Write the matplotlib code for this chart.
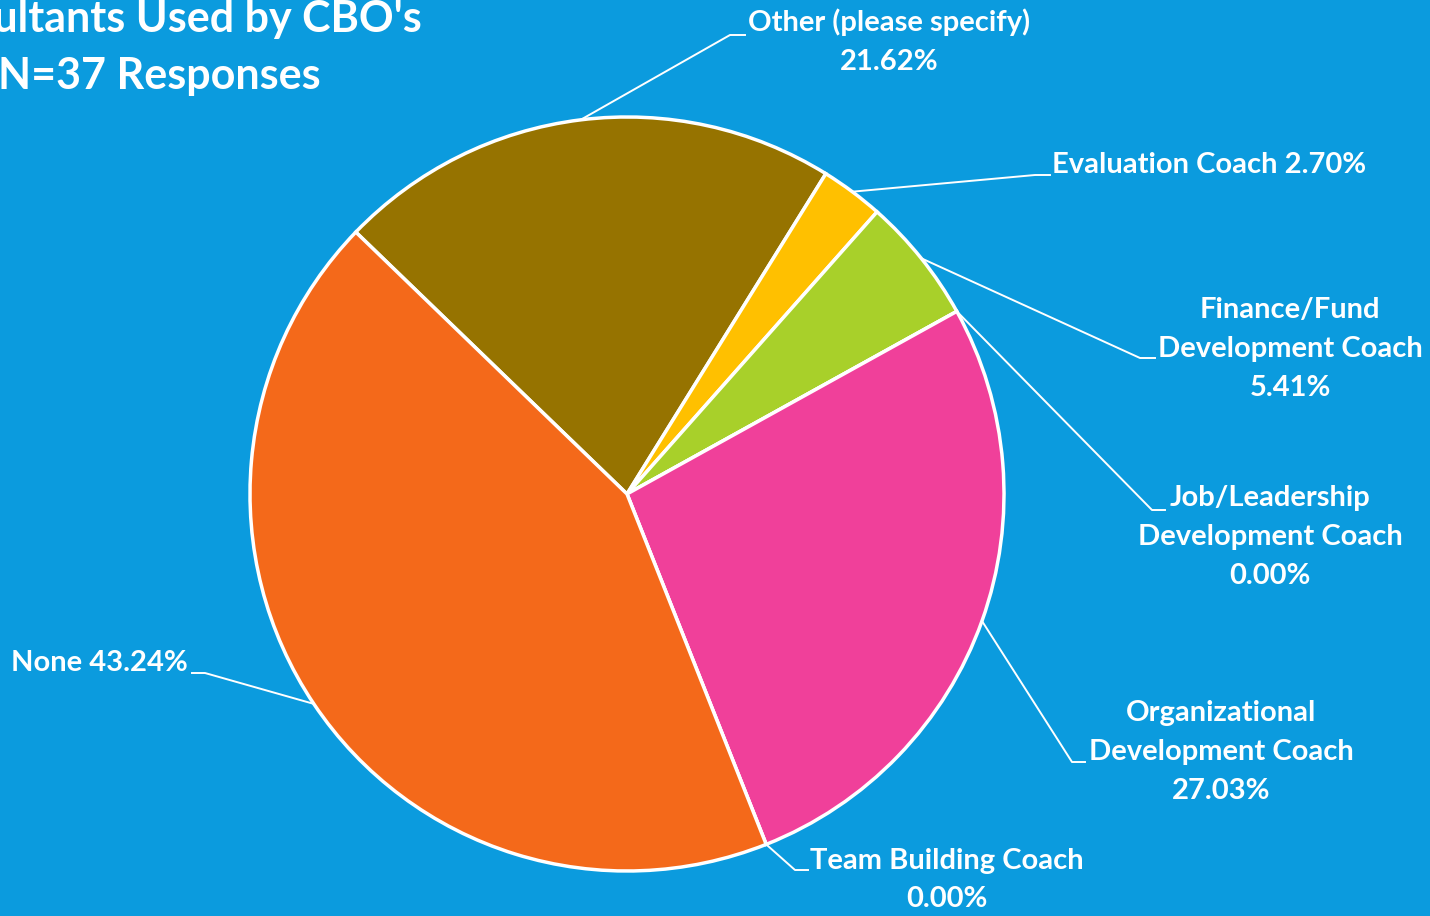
import numpy as np
import matplotlib.pyplot as plt

# Survey result, N=37
categories = ["Other (please specify)", "Evaluation Coach", "Finance/Fund\nDevelopment Coach",
              "Job/Leadership\nDevelopment Coach", "Organizational\nDevelopment Coach",
              "Team Building Coach", "None"]
shares = [21.62, 2.70, 5.41, 0.00, 27.03, 0.00, 43.24]
colors = ["#967300", "#FFC000", "#A8D02A", "#4472C4", "#F0409A", "#5B9BD5", "#F4691A"]

bg = "#0B9BDE"
H = 916

fig = plt.figure(figsize=(14.3, 9.16), dpi=100, facecolor=bg)
ax = fig.add_axes([0, 0, 1, 1])
ax.set_facecolor(bg)
plt.rcParams['font.family'] = ['Lato', 'DejaVu Sans']

cx, cy, r = 627, H - 494, 377
wedges, _ = ax.pie(shares, colors=colors, startangle=136, counterclock=False,
                   center=(cx, cy), radius=r,
                   wedgeprops=dict(edgecolor="white", linewidth=2.5))
ax.set_xlim(0, 1430)
ax.set_ylim(0, H)
ax.set_aspect("equal")
ax.axis("off")

# label layout: (text position, alignment, elbow point, end point), y from top
layout = [
    ((889, 42), "center", (730, 35), (745, 35)),
    ((1052, 165), "left", (1035, 175), (1050, 175)),
    ((1290, 349), "center", (1140, 358), (1155, 358)),
    ((1270, 537), "center", (1152, 510), (1165, 510)),
    ((1221, 752), "center", (1072, 762), (1085, 762)),
    ((947, 880), "center", (795, 870), (808, 870)),
    ((188, 663), "right", (205, 673), (192, 673)),
]
for w, name, val, (pos, ha, elbow, end) in zip(wedges, categories, shares, layout):
    ang = np.deg2rad((w.theta1 + w.theta2) / 2)
    sx, sy = cx + r * np.cos(ang), cy + r * np.sin(ang)
    ax.plot([sx, elbow[0], end[0]], [sy, H - elbow[1], H - end[1]],
            color="white", lw=1.4, zorder=1)
    if "\n" in name or name.startswith("Other") or name.startswith("Team"):
        txt = f"{name}\n{val:.2f}%"
    else:
        txt = f"{name} {val:.2f}%"
    ax.text(pos[0], H - pos[1], txt, ha=ha, va="center", color="white",
            fontsize=21, fontweight="bold", linespacing=1.6)

# title is clipped at the left edge in the reference
ax.text(422, H - 19, "Consultants Used by CBO's", ha="right", va="center",
        color="white", fontsize=31, fontweight="bold")
ax.text(-2, H - 76, "N=37 Responses", ha="left", va="center",
        color="white", fontsize=31, fontweight="bold")

fig.savefig("out.png", dpi=100, facecolor=bg)
